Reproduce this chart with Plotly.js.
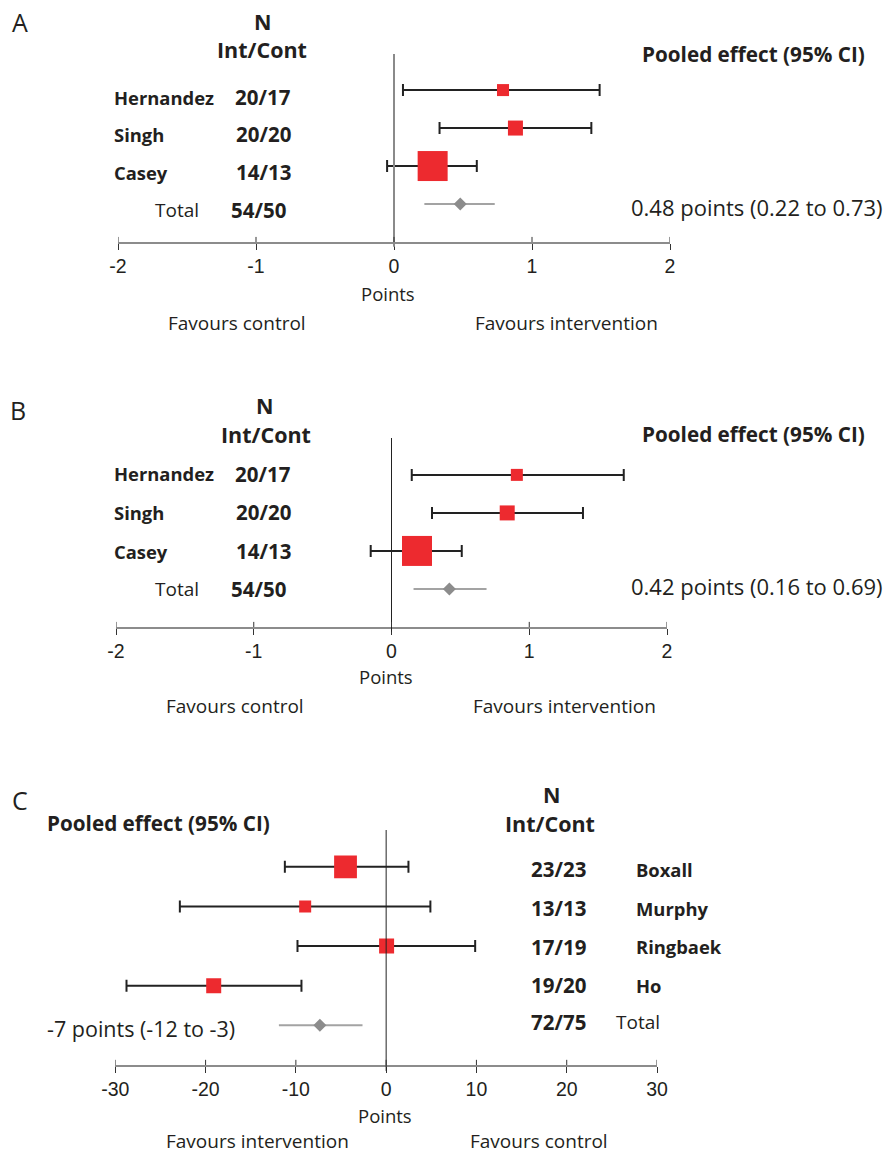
<!DOCTYPE html>
<html>
<head>
<meta charset="utf-8">
<script src="https://cdn.plot.ly/plotly-3.0.1.min.js"></script>
<style>html,body{margin:0;padding:0;background:#fff;}#chart{width:887px;height:1156px;}</style>
</head>
<body>
<div id="chart"></div>
<script>
// ---------------- DATA ----------------
// Panel A
const studiesA = ["Hernandez", "Singh", "Casey"];
const nA = ["20/17", "20/20", "14/13"];
const estA = [0.79, 0.88, 0.28];
const loA = [0.065, 0.33, -0.05];
const hiA = [1.49, 1.43, 0.60];
const weightA = [1, 1.25, 2.5];
const totalNA = "54/50";
const pooledA = [0.48, 0.22, 0.73]; // est, lo, hi
const pooledTextA = "0.48 points (0.22 to 0.73)";

// Panel B
const studiesB = ["Hernandez", "Singh", "Casey"];
const nB = ["20/17", "20/20", "14/13"];
const estB = [0.91, 0.84, 0.185];
const loB = [0.147, 0.294, -0.151];
const hiB = [1.686, 1.39, 0.51];
const weightB = [1, 1.25, 2.5];
const totalNB = "54/50";
const pooledB = [0.42, 0.16, 0.69];
const pooledTextB = "0.42 points (0.16 to 0.69)";

// Panel C
const studiesC = ["Boxall", "Murphy", "Ringbaek", "Ho"];
const nC = ["23/23", "13/13", "17/19", "19/20"];
const estC = [-4.5, -8.97, 0.05, -19.1];
const loC = [-11.22, -22.85, -9.82, -28.76];
const hiC = [2.47, 4.9, 9.86, -9.38];
const weightC = [1.9, 1, 1.25, 1.25];
const totalNC = "72/75";
const pooledC = [-7.34, -11.88, -2.62];
const pooledTextC = "-7 points (-12 to -3)";

const ticksAB = [-2, -1, 0, 1, 2];
const ticksC = [-30, -20, -10, 0, 10, 20, 30];

// ---------------- STYLE / LAYOUT ----------------
const W = 887, H = 1156;
const px = x => x / W;
const py = y => 1 - y / H;
const RED = '#ED2A2F', DARK = '#222222', GREY_LINE = '#A3A3A3', GREY_D = '#8C8C8C';
const TXT = '#231F20';
const FONT = 'Open Sans, Noto Sans, sans-serif';
const TICKFONT = 'Liberation Sans, Arial, sans-serif';
const baseSize = 12;

const traces = [];
const shapes = [];
const annotations = [];

function ann(text, x, y, size, opts) {
  annotations.push(Object.assign({
    text: text, x: px(x), y: py(y), xref: 'paper', yref: 'paper',
    showarrow: false, xanchor: 'center', yanchor: 'middle',
    font: {family: FONT, size: size, color: TXT}
  }, opts || {}));
}

function panel(cfg) {
  const xa = cfg.xa, ya = cfg.ya;
  const nRows = cfg.est.length;
  const rowY = cfg.est.map((_, i) => nRows - i + cfg.rowOffset);
  traces.push({
    type: 'scatter', mode: 'markers', xaxis: xa, yaxis: ya,
    x: cfg.est, y: rowY,
    error_x: {type: 'data', symmetric: false,
      array: cfg.hi.map((h, i) => h - cfg.est[i]),
      arrayminus: cfg.lo.map((l, i) => cfg.est[i] - l),
      color: DARK, thickness: 2, width: 6},
    marker: {symbol: 'square', color: RED, opacity: 1, size: cfg.weight.map(w => w * baseSize), line: {width: 0}},
    hoverinfo: 'skip', showlegend: false
  });
  const ty = cfg.rowOffset;
  traces.push({
    type: 'scatter', mode: 'lines', xaxis: xa, yaxis: ya,
    x: [cfg.pooled[1], cfg.pooled[2]], y: [ty, ty],
    line: {color: GREY_LINE, width: 2}, hoverinfo: 'skip', showlegend: false
  });
  traces.push({
    type: 'scatter', mode: 'markers', xaxis: xa, yaxis: ya,
    x: [cfg.pooled[0]], y: [ty],
    marker: {symbol: 'diamond', color: GREY_D, opacity: 1, size: 10, line: {width: 0}},
    hoverinfo: 'skip', showlegend: false
  });
  shapes.push({type: 'line', xref: xa, yref: ya + ' domain', x0: 0, x1: 0, y0: -0.025, y1: 1,
    line: {color: cfg.zeroColor, width: cfg.zeroWidth}});
  cfg.ticks.forEach(t => {
    shapes.push({type: 'line', xref: xa, yref: ya + ' domain', x0: t, x1: t, y0: 0, y1: cfg.tickUp,
      line: {color: '#333', width: 1}});
  });
}

panel({xa: 'x', ya: 'y', est: estA, lo: loA, hi: hiA, weight: weightA, pooled: pooledA,
  rowOffset: 1, ticks: ticksAB, zeroColor: '#8A8A8A', zeroWidth: 2, tickUp: 0.027});
panel({xa: 'x2', ya: 'y2', est: estB, lo: loB, hi: hiB, weight: weightB, pooled: pooledB,
  rowOffset: 1, ticks: ticksAB, zeroColor: '#222', zeroWidth: 1, tickUp: 0.027});
panel({xa: 'x3', ya: 'y3', est: estC, lo: loC, hi: hiC, weight: weightC, pooled: pooledC,
  rowOffset: 1, ticks: ticksC, zeroColor: '#222', zeroWidth: 1, tickUp: 0.022});

function xaxisDef(x0, x1, range, ticks, anchor) {
  return {
    domain: [px(x0), px(x1)], range: range, anchor: anchor,
    tickmode: 'array', tickvals: ticks, ticktext: ticks.map(String),
    showline: true, linecolor: '#8C8C8C', linewidth: 2,
    ticks: 'outside', ticklen: 6, tickcolor: '#333', tickwidth: 1,
    showgrid: false, zeroline: false,
    tickfont: {family: TICKFONT, size: 19.5, color: TXT},
    fixedrange: true
  };
}
function yaxisDef(yTopPx, yBotPx, top, anchor) {
  return {
    domain: [py(yBotPx), py(yTopPx)], range: [0, top], anchor: anchor,
    visible: false, showgrid: false, zeroline: false, fixedrange: true
  };
}

// ---------------- TEXT ----------------
const bold = s => '<b>' + s + '</b>';
const S_LET = 25, S_HDR = 21.5, S_NAME = 18.4, S_N = 20.5, S_POOLH = 20.7, S_POOLT = 22, S_FAV = 19, S_PTS = 18.5, S_TOT = 19;

// Panel A
ann('A', 20, 22, S_LET);
ann(bold('N'), 262, 21, S_HDR);
ann(bold('Int/Cont'), 262, 49, S_HDR);
const rowsA = [97, 134, 172];
studiesA.forEach((s, i) => { ann(bold(s), 112, rowsA[i], S_NAME, {xanchor: 'left'}); ann(bold(nA[i]), 263, rowsA[i], S_N); });
ann('Total', 201, 210, S_TOT, {xanchor: 'right'});
ann(bold(totalNA), 258, 210, S_N);
ann(bold('Pooled effect (95% CI)'), 867, 54, S_POOLH, {xanchor: 'right'});
ann(pooledTextA, 885, 207, S_POOLT, {xanchor: 'right'});
ann('Points', 388, 293, S_PTS);
ann('Favours control', 237, 323, S_FAV);
ann('Favours intervention', 566, 323, S_FAV);

// Panel B
ann('B', 18, 410, S_LET);
ann(bold('N'), 264, 405, S_HDR);
ann(bold('Int/Cont'), 266, 434, S_HDR);
const rowsB = [474, 512, 551];
studiesB.forEach((s, i) => { ann(bold(s), 112, rowsB[i], S_NAME, {xanchor: 'left'}); ann(bold(nB[i]), 263, rowsB[i], S_N); });
ann('Total', 201, 589, S_TOT, {xanchor: 'right'});
ann(bold(totalNB), 258, 589, S_N);
ann(bold('Pooled effect (95% CI)'), 867, 434, S_POOLH, {xanchor: 'right'});
ann(pooledTextB, 885, 586, S_POOLT, {xanchor: 'right'});
ann('Points', 386, 676, S_PTS);
ann('Favours control', 235, 706, S_FAV);
ann('Favours intervention', 564, 706, S_FAV);

// Panel C
ann('C', 20, 800, S_LET);
ann(bold('Pooled effect (95% CI)'), 45, 823, S_POOLH, {xanchor: 'left'});
ann(bold('N'), 551, 794, S_HDR);
ann(bold('Int/Cont'), 550, 823, S_HDR);
const rowsC = [869, 908, 947, 985];
studiesC.forEach((s, i) => { ann(bold(nC[i]), 558, rowsC[i], S_N); ann(bold(s), 634, rowsC[i], S_NAME, {xanchor: 'left'}); });
ann(bold(totalNC), 558, 1022, S_N);
ann('Total', 614, 1022, S_TOT, {xanchor: 'left'});
ann(pooledTextC, 45, 1028, 21.5, {xanchor: 'left'});
ann('Points', 385, 1115, S_PTS);
ann('Favours intervention', 257, 1141, S_FAV);
ann('Favours control', 539, 1141, S_FAV);

const layout = {
  width: W, height: H,
  margin: {l: 0, r: 0, t: 0, b: 0},
  paper_bgcolor: '#fff', plot_bgcolor: 'rgba(0,0,0,0)',
  showlegend: false,
  xaxis: xaxisDef(118, 670, [-2, 2], ticksAB, 'y'),
  yaxis: yaxisDef(54, 242, 4.95, 'x'),
  xaxis2: xaxisDef(116, 667, [-2, 2], ticksAB, 'y2'),
  yaxis2: yaxisDef(438, 627, 4.97, 'x2'),
  xaxis3: xaxisDef(115.3, 657, [-30, 30], ticksC, 'y3'),
  yaxis3: yaxisDef(830, 1065, 5.93, 'x3'),
  shapes: shapes,
  annotations: annotations
};

Plotly.newPlot('chart', traces, layout, {displayModeBar: false, staticPlot: true});
</script>
</body>
</html>
